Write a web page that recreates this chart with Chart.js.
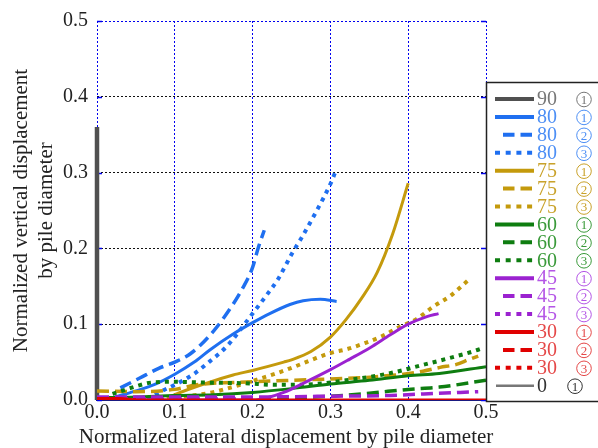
<!DOCTYPE html>
<html>
<head>
<meta charset="utf-8">
<script src="https://cdn.jsdelivr.net/npm/chart.js@4/dist/chart.umd.min.js"></script>
<style>
  html, body { margin: 0; padding: 0; background: #fff; }
  #wrap { width: 598px; height: 448px; }
</style>
</head>
<body>
<div id="wrap"><canvas id="chart" width="598" height="448"></canvas></div>
<script>
// Normalized lateral (x) / vertical (y) displacement, one pair per test
const x90_1 = [0.0, 0.0];
const y90_1 = [0.0, 0.36];

const x80_1 = [0.01, 0.03, 0.05, 0.075, 0.1, 0.125, 0.145, 0.175, 0.2, 0.222, 0.248, 0.265, 0.287, 0.308];
const y80_1 = [0.0, 0.006, 0.012, 0.021, 0.034, 0.05, 0.066, 0.087, 0.102, 0.114, 0.126, 0.131, 0.133, 0.13];
const x80_2 = [0.03, 0.055, 0.08, 0.1, 0.12, 0.143, 0.162, 0.188, 0.2, 0.207, 0.215];
const y80_2 = [0.016, 0.029, 0.042, 0.05, 0.061, 0.083, 0.107, 0.149, 0.175, 0.2, 0.224];
const x80_3 = [0.065, 0.08, 0.1, 0.124, 0.145, 0.167, 0.2, 0.217, 0.233, 0.251, 0.264, 0.282, 0.3, 0.308];
const y80_3 = [0.0, 0.01, 0.02, 0.034, 0.051, 0.071, 0.114, 0.137, 0.16, 0.194, 0.216, 0.249, 0.285, 0.305];

const x75_1 = [0.09, 0.1, 0.14, 0.175, 0.2, 0.24, 0.25, 0.275, 0.3, 0.32, 0.34, 0.36, 0.38, 0.4];
const y75_1 = [0.002, 0.007, 0.022, 0.033, 0.039, 0.05, 0.053, 0.064, 0.083, 0.106, 0.134, 0.168, 0.219, 0.286];
const x75_2 = [0.0, 0.05, 0.1, 0.128, 0.2, 0.25, 0.308, 0.351, 0.372, 0.394, 0.419, 0.441, 0.462, 0.477, 0.49];
const y75_2 = [0.012, 0.011, 0.014, 0.02, 0.024, 0.026, 0.028, 0.03, 0.032, 0.034, 0.038, 0.043, 0.047, 0.053, 0.058];
const x75_3 = [0.1, 0.143, 0.167, 0.212, 0.233, 0.254, 0.276, 0.3, 0.321, 0.344, 0.366, 0.388, 0.411, 0.432, 0.455, 0.476];
const y75_3 = [0.003, 0.009, 0.015, 0.029, 0.036, 0.044, 0.053, 0.062, 0.067, 0.075, 0.084, 0.096, 0.107, 0.123, 0.138, 0.157];

const x60_1 = [0.0, 0.05, 0.1, 0.15, 0.2, 0.25, 0.3, 0.35, 0.4, 0.44, 0.5];
const y60_1 = [0.003, 0.004, 0.006, 0.007, 0.01, 0.015, 0.021, 0.026, 0.032, 0.035, 0.044];
const x60_2 = [0.0, 0.1, 0.2, 0.25, 0.3, 0.35, 0.4, 0.44, 0.5];
const y60_2 = [0.002, 0.002, 0.002, 0.003, 0.005, 0.009, 0.014, 0.017, 0.026];
const x60_3 = [0.02, 0.05, 0.07, 0.1, 0.14, 0.19, 0.23, 0.26, 0.29, 0.32, 0.348, 0.37, 0.392, 0.414, 0.437, 0.459, 0.48, 0.495];
const y60_3 = [0.008, 0.018, 0.023, 0.024, 0.023, 0.022, 0.02, 0.02, 0.022, 0.026, 0.03, 0.034, 0.039, 0.045, 0.051, 0.057, 0.063, 0.068];

const x45_1 = [0.0, 0.2, 0.222, 0.24, 0.265, 0.3, 0.325, 0.351, 0.377, 0.4, 0.424, 0.439];
const y45_1 = [0.0, 0.0, 0.004, 0.01, 0.022, 0.04, 0.054, 0.069, 0.086, 0.1, 0.11, 0.114];
const x45_2 = [0.0, 0.1, 0.2, 0.3, 0.377, 0.42, 0.49];
const y45_2 = [0.004, 0.004, 0.004, 0.005, 0.006, 0.008, 0.011];
const x45_3 = [0.0, 0.2];
const y45_3 = [0.001, 0.001];

const x30_1 = [0.0, 0.03, 0.05, 0.5];
const y30_1 = [0.002, 0.002, 0.0, 0.0];
const x30_2 = [0.0, 0.05];
const y30_2 = [0.0, 0.0];
const x30_3 = [0.0, 0.05];
const y30_3 = [0.0, 0.0];

const x0_1 = [0.0, 0.05];
const y0_1 = [0.0, 0.0];

const xTicks = [0.0, 0.1, 0.2, 0.3, 0.4, 0.5];
const yTicks = [0.0, 0.1, 0.2, 0.3, 0.4, 0.5];

const xTitle = "Normalized lateral displacement by pile diameter";
const yTitle = ["Normalized vertical displacement", "by pile diameter"];

// Legend entries: angle, test number, line style
const legendAngle = ["90", "80", "80", "80", "75", "75", "75", "60", "60", "60", "45", "45", "45", "30", "30", "30", "0"];
const legendNo = [1, 1, 2, 3, 1, 2, 3, 1, 2, 3, 1, 2, 3, 1, 2, 3, 1];
const legendStyle = ["solid", "solid", "dash", "dot", "solid", "dash", "dot", "solid", "dash", "dot",
                     "solid", "dash", "dot", "solid", "dash", "dot", "thin"];

const lineColor = { "90": "#505050", "80": "#1f6ff0", "75": "#c49a0c", "60": "#0e7d10", "45": "#9b22d0", "30": "#e00000", "0": "#777777" };
const textColor = { "90": "#777777", "80": "#4d8ff5", "75": "#c9a22a", "60": "#3a9a3a", "45": "#b455e6", "30": "#e54848", "0": "#333333" };

const SERIF = "'Liberation Serif', 'Times New Roman', serif";

function pts(xs, ys) {
  return xs.map((x, i) => ({ x: x, y: ys[i] }));
}

function series(xs, ys, angle, style) {
  const ds = {
    data: pts(xs, ys),
    borderColor: lineColor[angle],
    backgroundColor: lineColor[angle],
    borderWidth: 3,
    pointRadius: 0,
    cubicInterpolationMode: "monotone",
    fill: false
  };
  if (style === "dash") { ds.borderDash = [12, 6]; ds.borderWidth = 3.5; }
  if (style === "dot") { ds.borderDash = [4, 5]; ds.borderWidth = 4; }
  if (style === "thin") { ds.borderWidth = 2; }
  return ds;
}

const datasets = [
  series(x30_1, y30_1, "30", "solid"),
  series(x30_2, y30_2, "30", "dash"),
  series(x30_3, y30_3, "30", "dot"),
  series(x0_1, y0_1, "0", "thin"),
  series(x45_1, y45_1, "45", "solid"),
  series(x45_2, y45_2, "45", "dash"),
  series(x45_3, y45_3, "45", "dot"),
  series(x60_1, y60_1, "60", "solid"),
  series(x60_2, y60_2, "60", "dash"),
  series(x60_3, y60_3, "60", "dot"),
  series(x75_1, y75_1, "75", "solid"),
  series(x75_2, y75_2, "75", "dash"),
  series(x75_3, y75_3, "75", "dot"),
  series(x80_1, y80_1, "80", "solid"),
  series(x80_2, y80_2, "80", "dash"),
  series(x80_3, y80_3, "80", "dot"),
  Object.assign(series(x90_1, y90_1, "90", "solid"), { borderWidth: 4.5, clip: false })
];

// short blue ticks on both sides of every horizontal grid line
const sideTicks = {
  id: "sideTicks",
  beforeDatasetsDraw(chart) {
    const { ctx, chartArea: a, scales: { y } } = chart;
    ctx.save();
    ctx.strokeStyle = "#0000ee";
    ctx.lineWidth = 1.5;
    yTicks.forEach(v => {
      const py = Math.round(y.getPixelForValue(v)) + 0.5;
      ctx.beginPath();
      ctx.moveTo(a.left, py); ctx.lineTo(a.left + 5, py);
      ctx.moveTo(a.right - 5, py); ctx.lineTo(a.right, py);
      ctx.stroke();
    });
    ctx.restore();
  }
};

// x title is wider than the plot, so it is drawn here instead of by the scale
const xTitleText = {
  id: "xTitleText",
  afterDraw(chart) {
    const ctx = chart.ctx;
    ctx.save();
    ctx.fillStyle = "#222";
    ctx.font = "21px " + SERIF;
    ctx.textAlign = "center";
    ctx.textBaseline = "middle";
    ctx.fillText(xTitle, 286, 437);
    ctx.restore();
  }
};

// boxed legend at the right: sample line, angle, circled test number
const boxLegend = {
  id: "boxLegend",
  afterDraw(chart) {
    const ctx = chart.ctx;
    const left = chart.chartArea.right;
    const top = 82, bottom = 401;
    ctx.save();
    ctx.fillStyle = "#fff";
    ctx.fillRect(left, top, 120, bottom - top);
    ctx.strokeStyle = "#222";
    ctx.lineWidth = 1.5;
    ctx.strokeRect(left + 0.5, top + 0.5, 130, bottom - top);

    const rowH = 17.92;
    legendAngle.forEach((ang, i) => {
      const cy = 99 + i * rowH;
      const style = legendStyle[i];
      ctx.strokeStyle = lineColor[ang];
      ctx.lineCap = "butt";
      ctx.lineWidth = style === "thin" ? 2.5 : 4;
      ctx.beginPath();
      if (style === "dash") {
        ctx.setLineDash([11.5, 6]);
        ctx.moveTo(503, cy); ctx.lineTo(532, cy);
      } else if (style === "dot") {
        ctx.setLineDash([5, 5.7]);
        ctx.moveTo(495, cy); ctx.lineTo(533, cy);
      } else {
        ctx.setLineDash([]);
        ctx.moveTo(style === "thin" ? 496 : 495, cy); ctx.lineTo(534, cy);
      }
      ctx.stroke();
      ctx.setLineDash([]);

      ctx.fillStyle = textColor[ang];
      ctx.font = "20px " + SERIF;
      ctx.textAlign = "left";
      ctx.textBaseline = "middle";
      ctx.fillText(ang, 537, cy + 1);

      const cx = ang === "0" ? 575 : 584;
      ctx.strokeStyle = textColor[ang];
      ctx.lineWidth = 1;
      ctx.beginPath();
      ctx.arc(cx, cy + 0.5, 7.3, 0, Math.PI * 2);
      ctx.stroke();
      ctx.font = "13px " + SERIF;
      ctx.textAlign = "center";
      ctx.fillText(String(legendNo[i]), cx, cy + 1.5);
    });
    ctx.restore();
  }
};

new Chart(document.getElementById("chart"), {
  type: "line",
  data: { datasets: datasets },
  plugins: [sideTicks, xTitleText, boxLegend],
  options: {
    responsive: false,
    animation: false,
    events: [],
    layout: { padding: { top: 20, right: 112, bottom: 0, left: 0 } },
    plugins: { legend: { display: false }, tooltip: { enabled: false } },
    scales: {
      x: {
        type: "linear",
        min: 0, max: 0.5,
        afterFit: s => { s.height = 48; },
        afterBuildTicks: s => { s.ticks = xTicks.map(v => ({ value: v })); },
        ticks: {
          padding: 1,
          color: "#222",
          font: { family: SERIF, size: 20 },
          callback: v => v.toFixed(1)
        },
        grid: { color: "#0000ee", lineWidth: 1, drawTicks: false },
        border: { display: true, color: "#1a1a80", width: 2, dash: [2, 2] },
        title: { display: false }
      },
      y: {
        type: "linear",
        min: 0, max: 0.5,
        afterFit: s => { s.width = 97; },
        afterBuildTicks: s => { s.ticks = yTicks.map(v => ({ value: v })); },
        ticks: {
          padding: 9,
          color: "#222",
          font: { family: SERIF, size: 20 },
          callback: v => v.toFixed(1)
        },
        grid: {
          color: c => (c.tick && c.tick.value === 0.5 ? "#0000ee" : "#111"),
          lineWidth: 1,
          drawTicks: false
        },
        border: { display: false, dash: [2, 2] },
        title: {
          display: true,
          text: yTitle,
          color: "#222",
          font: { family: SERIF, size: 21, lineHeight: 1.2 },
          padding: { top: 9, bottom: 0 }
        }
      }
    }
  }
});
</script>
</body>
</html>
